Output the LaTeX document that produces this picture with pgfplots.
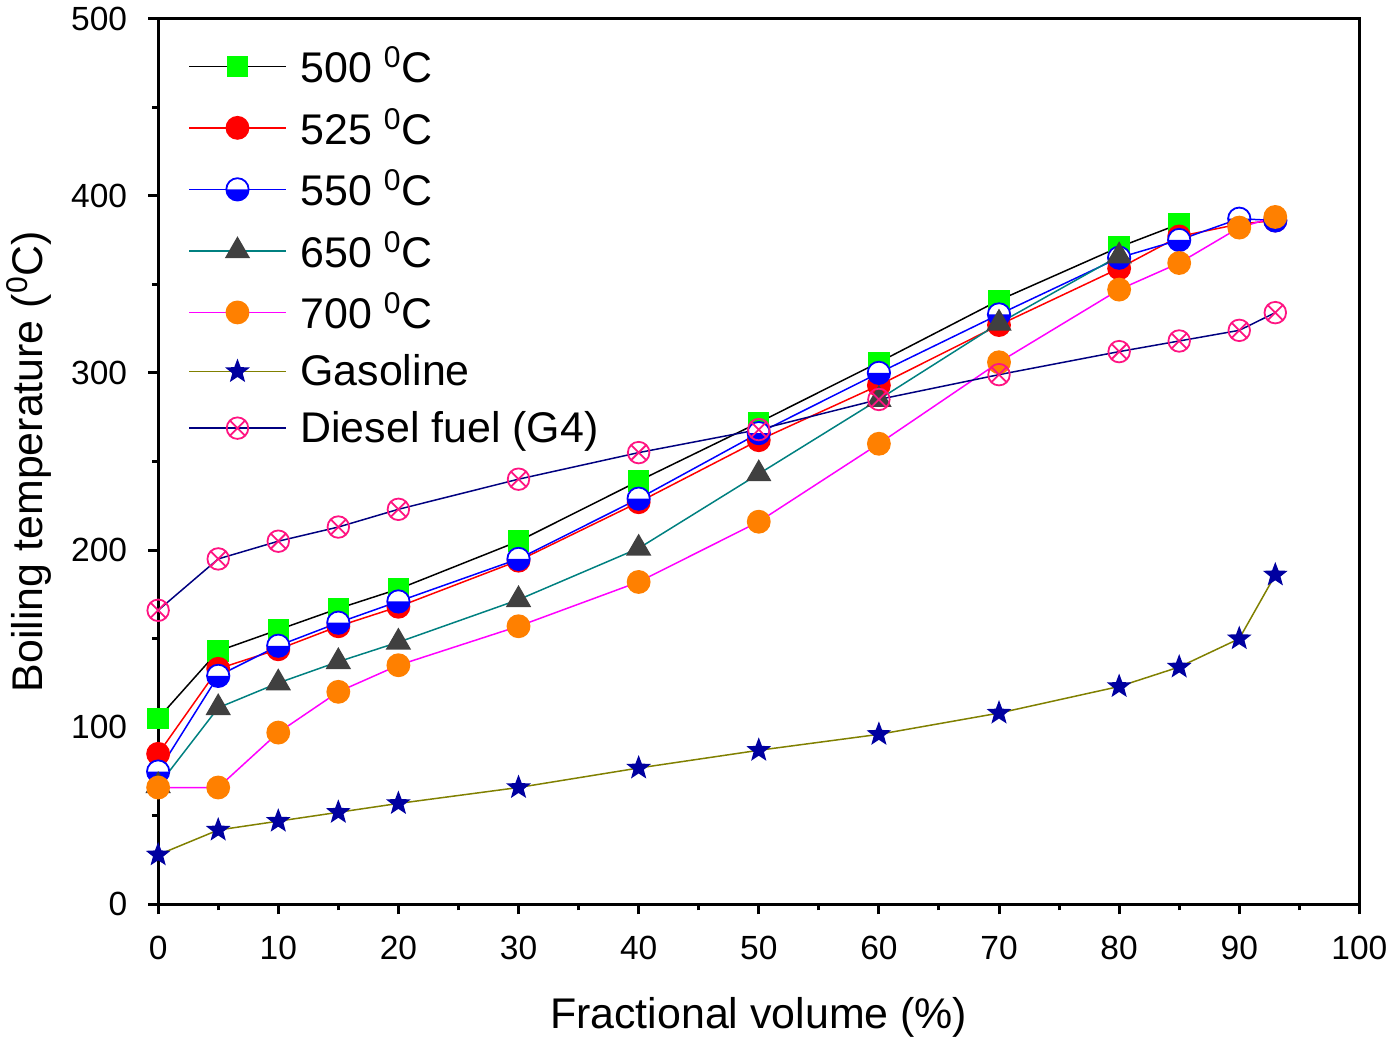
\documentclass[border=0pt]{standalone}
\usepackage{pgfplots}
\pgfplotsset{compat=1.18}
\usetikzlibrary{plotmarks}
\usepackage{fontspec}
\setmainfont{Liberation Sans}
\definecolor{mgreen}{RGB}{0,255,0}
\definecolor{mred}{RGB}{255,0,0}
\definecolor{mblue}{RGB}{0,0,255}
\definecolor{mteal}{RGB}{0,128,128}
\definecolor{mgray}{RGB}{64,64,64}
\definecolor{mmag}{RGB}{255,0,255}
\definecolor{morange}{RGB}{255,128,0}
\definecolor{molive}{RGB}{128,128,0}
\definecolor{mnavy}{RGB}{0,0,160}
\definecolor{dnavy}{RGB}{0,0,128}
\definecolor{mpink}{RGB}{255,20,130}
\pgfdeclareplotmark{halfdown}{%
  \pgfpathcircle{\pgfpointorigin}{\pgfplotmarksize}%
  \pgfsetfillcolor{white}\pgfusepathqfill
  \pgfpathmoveto{\pgfqpoint{\pgfplotmarksize}{0pt}}%
  \pgfpatharc{0}{-180}{\pgfplotmarksize}%
  \pgfpathclose
  \pgfsetfillcolor{mblue}\pgfusepathqfill
  \pgfpathcircle{\pgfpointorigin}{\pgfplotmarksize}%
  \pgfusepathqstroke
}
\pgfdeclareplotmark{fstar}{%
  \pgfpathmoveto{\pgfpointpolar{90}{\pgfplotmarksize}}%
  \pgfpathlineto{\pgfpointpolar{126}{0.42\pgfplotmarksize}}%
  \pgfpathlineto{\pgfpointpolar{162}{\pgfplotmarksize}}%
  \pgfpathlineto{\pgfpointpolar{198}{0.42\pgfplotmarksize}}%
  \pgfpathlineto{\pgfpointpolar{234}{\pgfplotmarksize}}%
  \pgfpathlineto{\pgfpointpolar{270}{0.42\pgfplotmarksize}}%
  \pgfpathlineto{\pgfpointpolar{306}{\pgfplotmarksize}}%
  \pgfpathlineto{\pgfpointpolar{342}{0.42\pgfplotmarksize}}%
  \pgfpathlineto{\pgfpointpolar{18}{\pgfplotmarksize}}%
  \pgfpathlineto{\pgfpointpolar{54}{0.42\pgfplotmarksize}}%
  \pgfpathclose
  \pgfusepathqfill
}
\begin{document}
\begin{tikzpicture}
\begin{axis}[
  scale only axis,
  width=602pt, height=444pt,
  xmin=0, xmax=100, ymin=0, ymax=500,
  xtick={0,10,...,100}, ytick={0,100,...,500},
  minor x tick num=1, minor y tick num=1,
  tick pos=left, tick align=outside,
  major tick length=5pt, minor tick length=3pt,
  every tick/.style={black, line width=1.5pt},
  axis line style={line width=1.5pt},
  /pgf/number format/assume math mode=true,
  tick label style={font=\fontsize{16.8}{20}\selectfont},
  xticklabel style={yshift=-7.5pt},
  yticklabel style={xshift=-7pt},
  label style={font=\fontsize{21.5}{25}\selectfont},
  xlabel={Fractional volume (\%)},
  xlabel style={yshift=-12pt},
  ylabel={Boiling temperature (\textsuperscript{0}C)},
  ylabel style={yshift=3pt},
  legend style={draw=none, fill=none, at={(axis description cs:0,1)}, anchor=north west,
    font=\fontsize{21.5}{25}\selectfont, row sep=7.3pt, xshift=12pt, yshift=-10pt,
    /tikz/every odd column/.append style={column sep=5pt}},
  legend cell align=left,
  legend image code/.code={\draw[mark repeat=2,mark phase=2] plot coordinates {(0cm,0cm) (0.85cm,0cm) (1.7cm,0cm)};},
  every axis plot/.append style={line width=0.75pt},
]
\addplot[black, mark=square*, mark size=5pt, mark options={draw=mgreen, fill=mgreen}] coordinates {
(0,105)(5,143)(10,155)(15,167)(20,178)(30,205)(40,239)(50,272)(60,306)(70,341)(80,371)(85,384)};
\addlegendentry{500 \textsuperscript{0}C}
\addplot[mred, mark=*, mark size=5.6pt, mark options={draw=mred, fill=mred}] coordinates {
(0,85)(5,133)(10,144)(15,157)(20,168)(30,194)(40,227)(50,262)(60,293)(70,327)(80,359)(85,377)(90,384)(93,386)};
\addlegendentry{525 \textsuperscript{0}C}
\addplot[mblue, mark=halfdown, mark size=5.6pt, mark options={draw=mblue, line width=0.9pt}] coordinates {
(0,75)(5,129)(10,146)(15,159)(20,171)(30,195)(40,229)(50,266)(60,300)(70,333)(80,365)(85,375)(90,387)(93,386)};
\addlegendentry{550 \textsuperscript{0}C}
\addplot[mteal, mark=triangle*, mark size=6.6pt, mark options={draw=mgray, fill=mgray}] coordinates {
(0,67)(5,111)(10,125)(15,137)(20,148)(30,172)(40,201)(50,243)(60,285)(70,328)(80,366)};
\addlegendentry{650 \textsuperscript{0}C}
\addplot[mmag, mark=*, mark size=5.6pt, mark options={draw=morange, fill=morange}] coordinates {
(0,66)(5,66)(10,97)(15,120)(20,135)(30,157)(40,182)(50,216)(60,260)(70,306)(80,347)(85,362)(90,382)(93,388)};
\addlegendentry{700 \textsuperscript{0}C}
\addplot[molive, mark=fstar, mark size=6.5pt, mark options={fill=mnavy, draw=mnavy}] coordinates {
(0,28)(5,42)(10,47)(15,52)(20,57)(30,66)(40,77)(50,87)(60,96)(70,108)(80,123)(85,134)(90,150)(93,186)};
\addlegendentry{Gasoline}
\addplot[dnavy, mark=otimes, mark size=5.4pt, mark options={draw=mpink, line width=0.9pt}] coordinates {
(0,166)(5,195)(10,205)(15,213)(20,223)(30,240)(40,255)(50,268)(60,285)(70,299)(80,312)(85,318)(90,324)(93,334)};
\addlegendentry{Diesel fuel (G4)}
\end{axis}
\end{tikzpicture}
\end{document}
